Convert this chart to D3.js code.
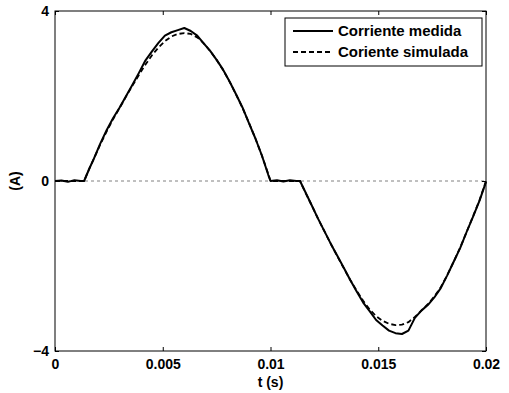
<!DOCTYPE html>
<html lang="es">
<head>
    <meta charset="UTF-8">
    <title>Corriente medida vs simulada</title>
    <script src="https://d3js.org/d3.v7.min.js"></script>
    <style>
        body {
            margin: 0;
            background: #ffffff;
            overflow: hidden;
        }
        text {
            font-family: "Liberation Sans", Arial, sans-serif;
            font-weight: bold;
        }
    </style>
</head>
<body>
    <div id="chart"></div>
    <script>
        // tiempo (s)
        const timeS = [0, 0.0003, 0.0006, 0.0009, 0.0012, 0.00135, 0.0016, 0.0018, 0.0021, 0.0024,
            0.0027, 0.0030, 0.0033, 0.0036, 0.0039, 0.0042, 0.0045, 0.0048, 0.0051, 0.0054,
            0.0057, 0.0060, 0.0063, 0.0066, 0.0069, 0.0072, 0.0075, 0.0078, 0.0081, 0.0084,
            0.0087, 0.0090, 0.0093, 0.0096, 0.0099, 0.0100, 0.0103, 0.0106, 0.0109, 0.0112,
            0.01137, 0.0116, 0.0119, 0.0122, 0.0125, 0.0128, 0.0131, 0.0134, 0.0137, 0.0140,
            0.0143, 0.0146, 0.0149, 0.0152, 0.0155, 0.0158, 0.0161, 0.0164, 0.0167, 0.0170,
            0.0173, 0.0176, 0.0179, 0.0182, 0.0185, 0.0188, 0.0191, 0.0194, 0.0197, 0.0200];

        // corriente medida (A)
        const measured = [0.0, 0.01, -0.02, 0.02, 0.0, 0.0, 0.3, 0.52, 0.88, 1.2,
            1.48, 1.73, 2.0, 2.27, 2.55, 2.84, 3.05, 3.25, 3.42, 3.5,
            3.55, 3.6, 3.53, 3.42, 3.24, 3.06, 2.85, 2.62, 2.34, 2.04,
            1.73, 1.36, 1.0, 0.6, 0.14, 0.0, 0.02, -0.01, 0.02, 0.0,
            0.0, -0.24, -0.56, -0.88, -1.18, -1.48, -1.76, -2.04, -2.33, -2.6,
            -2.86, -3.06, -3.27, -3.4, -3.52, -3.58, -3.6, -3.52, -3.22, -3.05,
            -2.92, -2.74, -2.52, -2.22, -1.9, -1.58, -1.2, -0.84, -0.46, -0.02];

        // corriente simulada (A)
        const simulated = [0, 0, 0, 0, 0, 0, 0.3, 0.52, 0.86, 1.17,
            1.46, 1.72, 1.99, 2.25, 2.5, 2.74, 2.96, 3.14, 3.29, 3.4,
            3.46, 3.48, 3.46, 3.38, 3.24, 3.06, 2.85, 2.61, 2.34, 2.04,
            1.72, 1.37, 1.0, 0.6, 0.16, 0, 0, 0, 0, 0,
            0, -0.25, -0.56, -0.88, -1.18, -1.48, -1.77, -2.05, -2.33, -2.58,
            -2.82, -3.02, -3.18, -3.29, -3.36, -3.39, -3.38, -3.32, -3.2, -3.05,
            -2.9, -2.72, -2.5, -2.22, -1.9, -1.57, -1.2, -0.83, -0.45, 0];

        const xTicks = [0, 0.005, 0.01, 0.015, 0.02];
        const xTickLabels = ["0", "0.005", "0.01", "0.015", "0.02"];
        const yTicks = [-4, 0, 4];
        const legendLabels = ["Corriente medida", "Coriente simulada"];

        const width = 509, height = 393;
        const margin = { top: 11, right: 23, bottom: 42, left: 55 };
        const iw = width - margin.left - margin.right;
        const ih = height - margin.top - margin.bottom;

        const svg = d3.select("#chart").append("svg")
            .attr("width", width)
            .attr("height", height);

        const g = svg.append("g")
            .attr("transform", `translate(${margin.left},${margin.top})`);

        const x = d3.scaleLinear().domain([0, 0.02]).range([0, iw]);
        const y = d3.scaleLinear().domain([-4, 4]).range([ih, 0]);

        // linea punteada en cero
        g.append("line")
            .attr("x1", 0).attr("x2", iw)
            .attr("y1", y(0)).attr("y2", y(0))
            .attr("stroke", "#808080")
            .attr("stroke-width", 1)
            .attr("stroke-dasharray", "3,3");

        const line = d3.line()
            .x((d, i) => x(timeS[i]))
            .y(d => y(d));

        g.append("path")
            .datum(simulated)
            .attr("fill", "none")
            .attr("stroke", "#000")
            .attr("stroke-width", 1.8)
            .attr("stroke-dasharray", "5,3")
            .attr("d", line);

        g.append("path")
            .datum(measured)
            .attr("fill", "none")
            .attr("stroke", "#000")
            .attr("stroke-width", 2)
            .attr("stroke-linejoin", "round")
            .attr("d", line);

        // ejes (estilo matlab, ticks hacia dentro)
        g.append("g")
            .attr("transform", `translate(0,${ih})`)
            .call(d3.axisBottom(x).tickValues(xTicks).tickSizeInner(-4).tickSizeOuter(0)
                .tickPadding(8).tickFormat((d, i) => xTickLabels[i]))
            .call(a => a.select(".domain").remove())
            .selectAll("text").attr("font-size", 14).attr("fill", "#000");

        g.append("g")
            .call(d3.axisTop(x).tickValues(xTicks).tickSizeInner(-4).tickSizeOuter(0).tickFormat(""))
            .call(a => a.select(".domain").remove());

        g.append("g")
            .call(d3.axisLeft(y).tickValues(yTicks).tickSizeInner(-4).tickSizeOuter(0)
                .tickPadding(6).tickFormat(d3.format("d")))
            .call(a => a.select(".domain").remove())
            .selectAll("text").attr("font-size", 14).attr("fill", "#000");

        g.append("g")
            .attr("transform", `translate(${iw},0)`)
            .call(d3.axisRight(y).tickValues(yTicks).tickSizeInner(-4).tickSizeOuter(0).tickFormat(""))
            .call(a => a.select(".domain").remove());

        g.selectAll(".tick line").attr("stroke", "#000");

        g.append("rect")
            .attr("x", 0).attr("y", 0)
            .attr("width", iw).attr("height", ih)
            .attr("fill", "none")
            .attr("stroke", "#000")
            .attr("stroke-width", 1);

        // etiquetas de ejes
        svg.append("text")
            .attr("x", margin.left + iw / 2)
            .attr("y", height - 6)
            .attr("text-anchor", "middle")
            .attr("font-size", 14)
            .text("t (s)");

        svg.append("text")
            .attr("transform", `translate(20,${margin.top + ih / 2}) rotate(-90)`)
            .attr("text-anchor", "middle")
            .attr("font-size", 14)
            .text("(A)");

        // leyenda
        const legend = svg.append("g").attr("transform", "translate(285,18)");
        legend.append("rect")
            .attr("width", 197).attr("height", 48)
            .attr("fill", "#fff")
            .attr("stroke", "#000")
            .attr("stroke-width", 1);

        legendLabels.forEach((lab, i) => {
            const ly = 13 + i * 21;
            legend.append("line")
                .attr("x1", 8).attr("x2", 48)
                .attr("y1", ly).attr("y2", ly)
                .attr("stroke", "#000")
                .attr("stroke-width", i === 0 ? 2 : 1.8)
                .attr("stroke-dasharray", i === 0 ? null : "5,3");
            legend.append("text")
                .attr("x", 53)
                .attr("y", ly)
                .attr("dy", "0.35em")
                .attr("font-size", 15)
                .text(lab);
        });
    </script>
</body>
</html>
